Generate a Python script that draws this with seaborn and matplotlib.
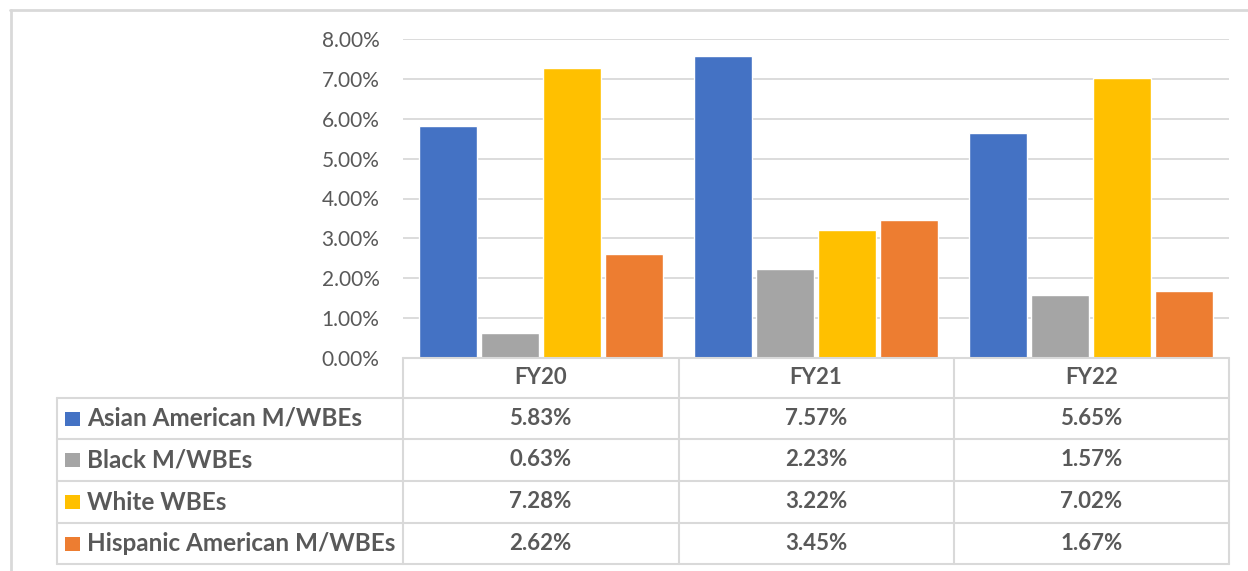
import matplotlib.pyplot as plt
import matplotlib.transforms as mtransforms
from matplotlib.lines import Line2D
from matplotlib.patches import Rectangle
import pandas as pd
import seaborn as sns

years = ["FY20", "FY21", "FY22"]
groups = ["Asian American M/WBEs", "Black M/WBEs", "White WBEs", "Hispanic American M/WBEs"]
asian = [5.83, 7.57, 5.65]
black = [0.63, 2.23, 1.57]
white = [7.28, 3.22, 7.02]
hispanic = [2.62, 3.45, 1.67]
colors = ["#4472C4", "#A5A5A5", "#FFC000", "#ED7D31"]

series = [asian, black, white, hispanic]
rows = []
for g, vals in zip(groups, series):
    for y, v in zip(years, vals):
        rows.append({"year": y, "group": g, "value": v / 100})
df = pd.DataFrame(rows)

sns.set_style("white")
plt.rcParams["font.family"] = ["Lato", "DejaVu Sans"]
text_col = "#595959"
line_col = "#D9D9D9"

W, H = 1248, 571
fig = plt.figure(figsize=(W / 100, H / 100), dpi=100)
ax = fig.add_axes([403 / W, 1 - 358 / H, (1229 - 403) / W, (358 - 39) / H])

sns.barplot(data=df, x="year", y="value", hue="group", palette=colors,
            width=0.9, gap=0.065, ax=ax, legend=False, saturation=1)

ax.set_xlim(-0.5, 2.5)
ax.set_ylim(0, 0.08)
ax.set_yticks([i / 100 for i in range(9)])
ax.set_yticklabels([f"{i:.2f}%" for i in range(9)], fontsize=15, color=text_col)
ax.tick_params(axis="y", length=0, pad=17)
ax.set_xticks([])
ax.set_xlabel("")
ax.set_ylabel("")
ax.yaxis.grid(True, color=line_col, linewidth=1.3)
ax.set_axisbelow(True)
for s in ax.spines.values():
    s.set_visible(False)


def fx(px):
    return px / W


def fy(py):
    return 1 - py / H


# outer chart border
fig.add_artist(Line2D([fx(10), 1], [fy(10), fy(10)], color=line_col, lw=2))
fig.add_artist(Line2D([fx(11), fx(11)], [fy(10), 0], color=line_col, lw=2))

# data table
col_edges = [403, 679, 954, 1229]
row_edges = [358, 398, 439, 481, 523, 564]
tl = 57
fig.add_artist(Line2D([fx(403), fx(1229)], [fy(358), fy(358)], color=line_col, lw=1.5))
for r in row_edges[1:]:
    fig.add_artist(Line2D([fx(tl), fx(1229)], [fy(r), fy(r)], color=line_col, lw=1.5))
for c in col_edges:
    fig.add_artist(Line2D([fx(c), fx(c)], [fy(358), fy(564)], color=line_col, lw=1.5))
fig.add_artist(Line2D([fx(tl), fx(tl)], [fy(398), fy(564)], color=line_col, lw=1.5))

trans = mtransforms.blended_transform_factory(ax.transData, fig.transFigure)
for i, y in enumerate(years):
    ymid = (row_edges[0] + row_edges[1]) / 2
    ax.text(i, fy(ymid), y, transform=trans, ha="center", va="center",
            fontsize=16, fontweight="bold", color=text_col, clip_on=False)

for j, (g, vals) in enumerate(zip(groups, series)):
    ymid = (row_edges[j + 1] + row_edges[j + 2]) / 2
    fig.add_artist(Rectangle((fx(65), fy(ymid + 7)), fx(15), 14 / H,
                             facecolor=colors[j], edgecolor="none"))
    fig.text(fx(87), fy(ymid), g, ha="left", va="center",
             fontsize=17.5, fontweight="bold", color=text_col)
    for i, v in enumerate(vals):
        ax.text(i, fy(ymid), f"{v:.2f}%", transform=trans, ha="center", va="center",
                fontsize=16, fontweight="bold", color=text_col, clip_on=False)

fig.savefig("out.png", dpi=100, facecolor="white")
